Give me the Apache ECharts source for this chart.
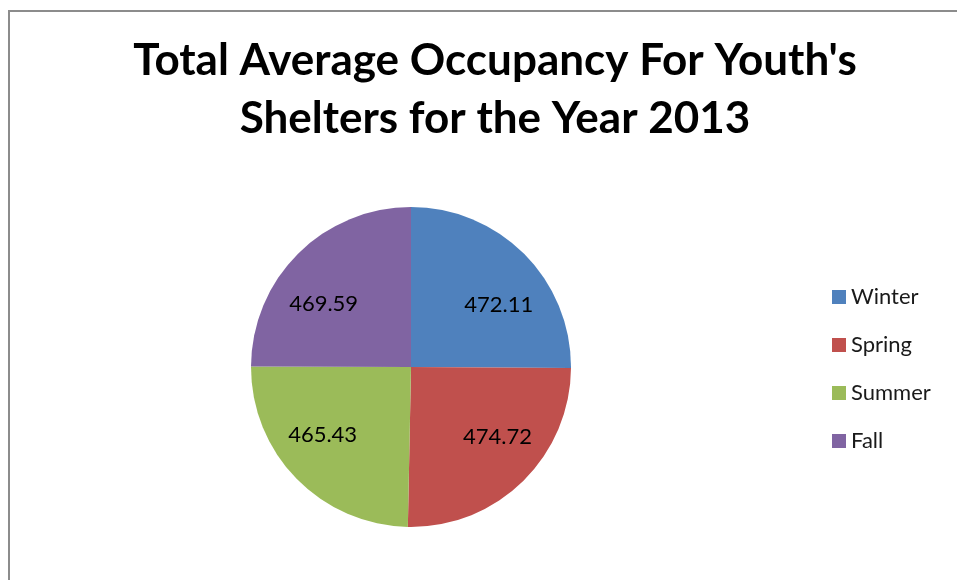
<!DOCTYPE html>
<html><head><meta charset="utf-8">
<script src="https://cdn.jsdelivr.net/npm/echarts@6/dist/echarts.min.js"></script>
<style>html,body{margin:0;padding:0;background:#fff}#c{width:957px;height:580px}</style>
</head><body><div id="c"></div>
<script>
const categories = ['Winter', 'Spring', 'Summer', 'Fall'];
const values = [472.11, 474.72, 465.43, 469.59];
const colors = ['#4F81BD', '#C0504D', '#9BBB59', '#8064A2'];
const titleText = "Total Average Occupancy For Youth's\nShelters for the Year 2013";

const data = categories.map((c, i) => ({ name: c, value: values[i], itemStyle: { color: colors[i] } }));
const chart = echarts.init(document.getElementById('c'));
const C = [411, 367];
chart.setOption({
  animation: false,
  graphic: [{ type: 'rect', shape: { x: 9, y: 11, width: 1200, height: 1200 }, style: { fill: 'none', stroke: '#8c8c8c', lineWidth: 2 }, z: -1 }],
  title: { text: titleText, left: 490, textAlign: 'center', top: 27,
    textStyle: { fontFamily: 'Lato', fontWeight: 'bold', fontSize: 44, lineHeight: 58, color: '#000' } },
  legend: { orient: 'vertical', left: 827, top: 280, icon: 'rect', itemWidth: 14, itemHeight: 14, itemGap: 24,
    data: categories,
    textStyle: { fontFamily: 'Lato', fontSize: 22, lineHeight: 24, color: '#1a1a1a', padding: [0, 0, 0, 0] } },
  series: [
    { type: 'pie', center: C, radius: [0, 160], startAngle: 90, clockwise: true, silent: true,
      label: { show: false }, labelLine: { show: false }, data: data },
    { type: 'pie', center: C, radius: [56, 160], startAngle: 90, clockwise: true, silent: true,
      itemStyle: { color: 'rgba(0,0,0,0)' }, legendHoverLink: false,
      label: { show: true, position: 'inside', formatter: p => p.value.toFixed(2), fontFamily: 'Lato', fontSize: 22, color: '#000' },
      labelLine: { show: false },
      labelLayout: function (p) {
        const r = p.labelRect;
        const right = r.x + r.width / 2 > C[0];
        const up = r.y + r.height / 2 < C[1];
        return { dx: right ? 9 : -9, dy: up ? 16 : -10 };
      },
      data: categories.map((c, i) => ({ name: c + ' ', value: values[i], itemStyle: { color: 'rgba(0,0,0,0)' } })) }
  ]
});
</script></body></html>
